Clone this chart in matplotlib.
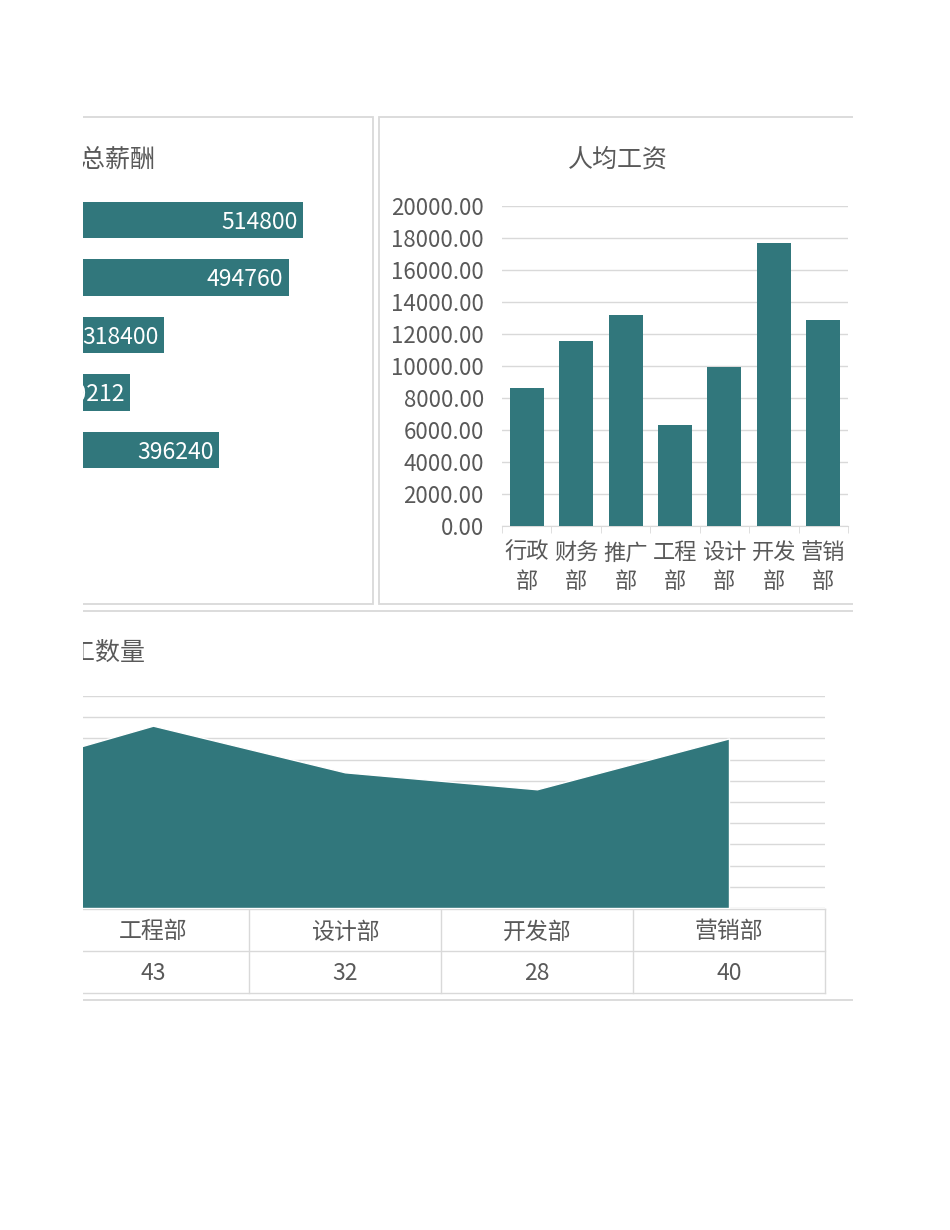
import matplotlib
matplotlib.use('Agg')
import matplotlib.pyplot as plt
from matplotlib.patches import Rectangle
from matplotlib.ticker import FixedLocator, FormatStrFormatter
from matplotlib import transforms

plt.rcParams['font.family'] = ['Noto Sans CJK SC', 'DejaVu Sans']

# 数据
depts = ['行政部', '财务部', '推广部', '工程部', '设计部', '开发部', '营销部']
avg_salary = [8600, 11550, 13208, 6284, 9950, 17670, 12870]

total_depts = ['营销部', '开发部', '设计部', '工程部', '推广部']
total_salary = [514800, 494760, 318400, 270212, 396240]

area_depts = ['推广部', '工程部', '设计部', '开发部', '营销部']
headcount = [30, 43, 32, 28, 40]

teal = '#31777c'
grey_txt = '#595959'
line_c = '#d9d9d9'

W, H = 950, 1230
fig = plt.figure(figsize=(W / 100, H / 100), dpi=100)


def box(l, t, r, b):
    return [l / W, 1 - b / H, (r - l) / W, (b - t) / H]


# 背景层（页面裁剪在 83..853 像素之间）
ov = fig.add_axes(box(83, 0, 853, H), zorder=-1)
ov.set_xlim(83, 853)
ov.set_ylim(H, 0)
ov.axis('off')
for (l, t, r, b) in [(60, 117, 373, 604), (379, 117, 900, 604), (60, 611, 900, 1000)]:
    ov.add_patch(Rectangle((l, t), r - l, b - t, fill=False, ec=line_c, lw=1.3))
ov.text(156, 160, '部门总薪酬', ha='right', va='center', fontsize=18, color=grey_txt, clip_on=True)
ov.text(618, 160, '人均工资', ha='center', va='center', fontsize=18, color=grey_txt, clip_on=True)
ov.text(146, 653, '部门员工数量', ha='right', va='center', fontsize=18, color=grey_txt, clip_on=True)

# 总薪酬 横向条形图
zero_px, px_per_unit = -61.3, 0.0007077
hl, hr = 83, 360
ax1 = fig.add_axes(box(hl, 191.25, hr, 593.75))
ax1.barh(range(len(total_salary)), total_salary, height=0.63, color=teal)
ax1.set_xlim((hl - zero_px) / px_per_unit, (hr - zero_px) / px_per_unit)
ax1.set_ylim(6.5, -0.5)
ax1.axis('off')
for i, v in enumerate(total_salary):
    ax1.annotate(str(v), (v, i), xytext=(-4, -1.5), textcoords='offset points',
                 ha='right', va='center', color='white', fontsize=16.5,
                 annotation_clip=False, clip_on=True)

# 人均工资 柱状图
ax2 = fig.add_axes(box(502, 206, 848, 526))
x = range(len(depts))
ax2.bar(x, avg_salary, width=0.69, color=teal, zorder=3)
ax2.set_xlim(-0.5, len(depts) - 0.5)
ax2.set_ylim(0, 20000)
ax2.set_yticks(range(0, 20001, 2000))
ax2.yaxis.set_major_formatter(FormatStrFormatter('%.2f'))
ax2.grid(axis='y', color=line_c, lw=1, zorder=0)
for s in ['top', 'right', 'left']:
    ax2.spines[s].set_visible(False)
ax2.spines['bottom'].set_color(line_c)
ax2.set_xticks(list(x))
ax2.set_xticklabels([d[:2] + '\n' + d[2:] for d in depts], linespacing=1.3)
ax2.xaxis.set_minor_locator(FixedLocator([i - 0.5 for i in range(len(depts) + 1)]))
ax2.tick_params(axis='x', which='major', length=0, pad=11, labelsize=16, labelcolor=grey_txt)
ax2.tick_params(axis='x', which='minor', length=5, color=line_c)
ax2.tick_params(axis='y', length=0, pad=13, labelsize=16, labelcolor=grey_txt)

# 员工数量 面积图
al, ar = 83, 825
ax3 = fig.add_axes(box(al, 696, ar, 908))
pos = [depts.index(d) for d in area_depts]
ax3.fill_between(pos, headcount, color=teal, ec='white', lw=1, zorder=3)
span = (ar - al) / 192.0
ax3.set_xlim(len(depts) - 0.5 - span, len(depts) - 0.5)
ax3.set_ylim(0, 50)
ax3.set_yticks(range(0, 51, 5))
ax3.grid(axis='y', color=line_c, lw=1, zorder=0)
ax3.tick_params(length=0, labelleft=False, labelbottom=False)
for s in ax3.spines.values():
    s.set_visible(False)

# 数据表（页面左侧被裁掉的单元格不写文字）
tr = transforms.blended_transform_factory(ax3.transData, ov.transData)
left_lim = ax3.get_xlim()[0]
rows = [909, 951, 993]
for y in rows:
    ov.plot([pos[0] - 0.5, len(depts) - 0.5], [y, y], color=line_c, lw=1, transform=tr)
for p in pos:
    ov.plot([p + 0.5, p + 0.5], [rows[0], rows[-1]], color=line_c, lw=1, transform=tr)
for p, d, n in zip(pos, area_depts, headcount):
    if p < left_lim:
        continue
    ov.text(p, 932, d, ha='center', va='center', fontsize=16.5, color=grey_txt,
            transform=tr, clip_on=True)
    ov.text(p, 974, str(n), ha='center', va='center', fontsize=16.5, color=grey_txt,
            transform=tr, clip_on=True)

fig.savefig('out.png', dpi=100)
